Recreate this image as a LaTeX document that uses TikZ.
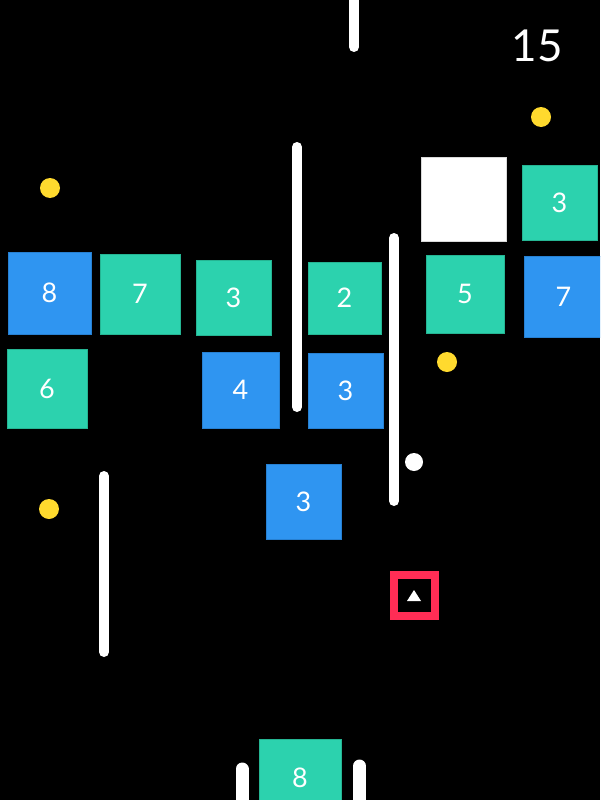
\documentclass[tikz,border=0pt]{standalone}
\usepackage{fontspec}
\setmainfont{Lato}
\definecolor{bgc}{HTML}{000000}
\definecolor{bblue}{HTML}{2F95F1}
\definecolor{bblueedge}{HTML}{2780D2}
\definecolor{bteal}{HTML}{2CD2AE}
\definecolor{btealedge}{HTML}{25B593}
\definecolor{dotyellow}{HTML}{FFDA2E}
\definecolor{targetred}{HTML}{FF2D55}
\tikzset{
  brick/.style={rectangle, inner sep=0pt, line width=1pt, text=white,
    font=\fontsize{27}{27}\selectfont},
  bluebrick/.style={brick, fill=bblue, draw=bblueedge},
  tealbrick/.style={brick, fill=bteal, draw=btealedge},
  whitebrick/.style={rectangle, inner sep=0pt, fill=white, draw=white!85!black, line width=1pt},
  bar/.style={draw=white, line width=10pt, line cap=round},
  widebar/.style={draw=white, line width=13pt, line cap=round},
  coin/.style={circle, fill=dotyellow, inner sep=0pt, minimum size=20pt},
  ball/.style={circle, fill=white, inner sep=0pt, minimum size=18pt},
}
\begin{document}
\begin{tikzpicture}[x=1pt,y=-1pt]
\fill[bgc] (0,0) rectangle (600,800);
\useasboundingbox (0,0) rectangle (600,800);
\begin{scope}
\clip (0,0) rectangle (600,800);
% score
\node[text=white, font=\fontsize{44}{44}\selectfont] (score) at (537,46) {15};
% bars
\coordinate (t1) at (354,-12); \coordinate (t2) at (354,47);
\draw[bar] (t1) -- (t2);
\coordinate (m1) at (297,147); \coordinate (m2) at (297,407);
\draw[bar] (m1) -- (m2);
\coordinate (r1) at (394,238); \coordinate (r2) at (394,501);
\draw[bar] (r1) -- (r2);
\coordinate (l1) at (104,476); \coordinate (l2) at (104,652);
\draw[bar] (l1) -- (l2);
\coordinate (bl1) at (242,769); \coordinate (bl2) at (242,815);
\draw[widebar] (bl1) -- (bl2);
\coordinate (br1) at (359.5,766); \coordinate (br2) at (359.5,815);
\draw[widebar] (br1) -- (br2);
% bricks
\node[bluebrick, minimum width=83pt, minimum height=82pt] (b8) at (49.5,293) {8};
\node[tealbrick, minimum width=80pt, minimum height=80pt] (b7) at (140,294) {7};
\node[tealbrick, minimum width=75pt, minimum height=75pt] (b3a) at (233.5,297.5) {3};
\node[tealbrick, minimum width=80pt, minimum height=79pt] (b6) at (47,388.5) {6};
\node[bluebrick, minimum width=77pt, minimum height=76pt] (b4) at (240.5,390) {4};
\node[tealbrick, minimum width=73pt, minimum height=72pt] (b2) at (344.5,298) {2};
\node[bluebrick, minimum width=75pt, minimum height=75pt] (b3b) at (345.5,390.5) {3};
\node[whitebrick, minimum width=85pt, minimum height=84pt] (wb) at (463.5,199) {};
\node[tealbrick, minimum width=75pt, minimum height=75pt] (b3c) at (559.5,202.5) {3};
\node[tealbrick, minimum width=78pt, minimum height=78pt] (b5) at (465,294) {5};
\node[bluebrick, minimum width=79pt, minimum height=81pt] (b7b) at (563.5,296.5) {7};
\node[bluebrick, minimum width=75pt, minimum height=75pt] (b3d) at (303.5,501.5) {3};
\node[tealbrick, minimum width=82pt, minimum height=78pt] (b8b) at (300,778) {8};
% coins
\node[coin] (c1) at (50,188) {};
\node[coin] (c2) at (541,117) {};
\node[coin] (c3) at (447,362) {};
\node[coin] (c4) at (49,509) {};
% ball
\node[ball] (ballnode) at (414,462) {};
% launcher target
\node[rectangle, draw=targetred, line width=8pt, minimum size=41pt, inner sep=0pt] (target) at (414.5,595.5) {};
\fill[white] (407,601) -- (421,601) -- (414,590) -- cycle;
\end{scope}
\end{tikzpicture}
\end{document}
